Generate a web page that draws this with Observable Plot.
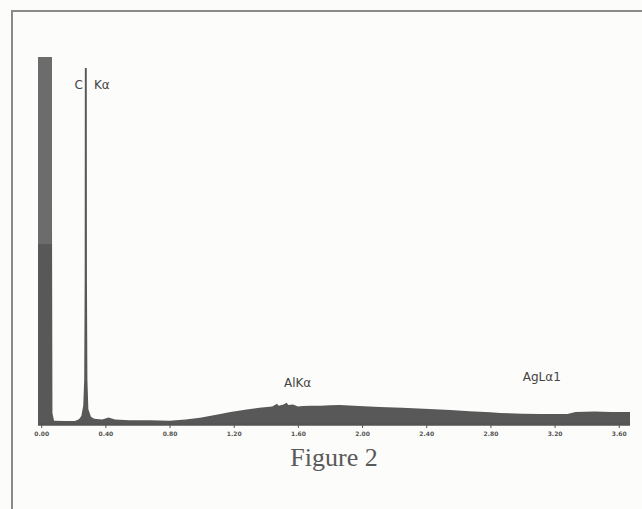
<!DOCTYPE html>
<html>
<head>
<meta charset="utf-8">
<script src="https://cdn.jsdelivr.net/npm/d3@7"></script>
<script src="https://cdn.jsdelivr.net/npm/@observablehq/plot@0.6"></script>
<style>
  html, body { margin: 0; padding: 0; background: #fcfcfa; }
  #fig { position: relative; width: 642px; height: 509px; overflow: hidden; }
  #frame { position: absolute; left: 11px; top: 10px; right: 0; bottom: 0;
           border-top: 2px solid #8a8a8a; border-left: 2px solid #8a8a8a; }
  #chart { position: absolute; left: 0; top: 0; }
  #caption { position: absolute; left: 0; width: 668px; top: 443px; text-align: center;
             font-family: "Liberation Serif", "DejaVu Serif", serif; font-size: 26px; color: #5a5a5a; }
</style>
</head>
<body>
<div id="fig">
  <div id="frame"></div>
  <div id="chart"></div>
  <div id="caption">Figure 2</div>
</div>
<script>
// Energy (keV) and relative counts
const energy = [-0.02, 0.065, 0.070, 0.08, 0.15, 0.21, 0.235, 0.25, 0.262, 0.268, 0.271, 0.272, 0.284, 0.285, 0.288, 0.294, 0.31, 0.33,
  0.38, 0.42, 0.46, 0.55, 0.68, 0.80, 0.90, 0.99, 1.10, 1.18, 1.27, 1.36, 1.44, 1.47, 1.48, 1.51, 1.53, 1.54, 1.57, 1.60, 1.63, 1.68,
  1.74, 1.80, 1.86, 1.95, 2.11, 2.25, 2.42, 2.55, 2.67, 2.80, 2.86, 3.00, 3.11, 3.20, 3.28, 3.33, 3.45, 3.55, 3.67];
const counts = [100, 100, 3, 0.9, 0.8, 0.8, 1.3, 2.2, 5, 12, 40, 97, 97, 40, 12, 4, 2, 1.4,
  1.2, 1.8, 1.2, 1.0, 1.0, 0.9, 1.2, 1.7, 2.6, 3.3, 3.9, 4.4, 4.8, 5.5, 5.0, 5.3, 5.8, 5.2, 5.3, 4.8, 4.9, 5.0,
  5.0, 5.1, 5.2, 5.0, 4.6, 4.4, 4.1, 3.8, 3.5, 3.2, 3.0, 2.8, 2.7, 2.7, 2.7, 3.3, 3.4, 3.3, 3.3];
// Saturated (clipped) part of the low-energy noise peak
const satStart = [-0.02];
const satEnd = [0.067];
const satLow = [49];
const satHigh = [100];
// Axis ticks
const tickValues = [0, 0.4, 0.8, 1.2, 1.6, 2.0, 2.4, 2.8, 3.2, 3.6];
const tickLabels = ["0.00", "0.40", "0.80", "1.20", "1.60", "2.00", "2.40", "2.80", "3.20", "3.60"];
// Peak labels
const labelText = ["C", "Kα", "AlKα", "AgLα1"];
const labelE = [0.23, 0.375, 1.595, 3.117];
const labelY = [92.4, 92.4, 11.4, 12.8];

const spectrum = energy.map((e, i) => ({e, c: counts[i]}));
const saturated = satStart.map((s, i) => ({x1: s, x2: satEnd[i], y1: satLow[i], y2: satHigh[i]}));
const labels = labelText.map((t, i) => ({t, e: labelE[i], y: labelY[i]}));

const chart = Plot.plot({
  width: 642,
  height: 445,
  marginLeft: 38,
  marginRight: 12,
  marginTop: 57,
  marginBottom: 21,
  style: {background: "transparent", fontFamily: "DejaVu Sans", color: "#555"},
  x: {domain: [-0.02, 3.67]},
  y: {domain: [0, 100], axis: null},
  marks: [
    Plot.areaY(spectrum, {x: "e", y: "c", fill: "#585858"}),
    Plot.rectY(saturated, {x1: "x1", x2: "x2", y1: "y1", y2: "y2", fill: "#6c6c6c"}),
    Plot.ruleY([0], {stroke: "#555", strokeWidth: 2.5}),
    Plot.axisX({ticks: tickValues, tickFormat: d => tickLabels[tickValues.indexOf(d)],
      tickSize: 4, tickPadding: 3, fontSize: 6, fontWeight: "bold", stroke: "#555", fill: "#555"}),
    Plot.text(labels, {x: "e", y: "y", text: "t", fontSize: 12, fill: "#444",
      fontFamily: "DejaVu Sans"})
  ]
});
document.getElementById("chart").appendChild(chart);
</script>
</body>
</html>
